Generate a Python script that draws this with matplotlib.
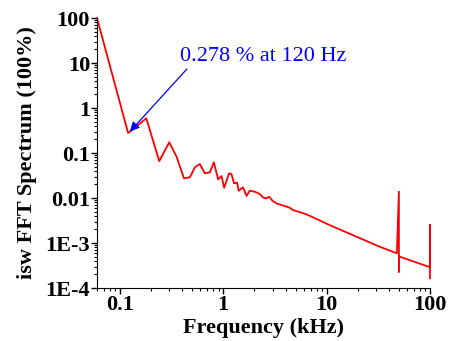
import numpy as np
import matplotlib
matplotlib.use("Agg")
import matplotlib.pyplot as plt
from matplotlib.ticker import FixedLocator, FixedFormatter, LogLocator, NullFormatter

# Spectrum (frequency in kHz, amplitude in %)
freq = [0.06, 0.12, 0.18, 0.24, 0.30, 0.353, 0.416, 0.475, 0.531, 0.593,
        0.663, 0.742, 0.81, 0.892, 0.962, 1.019, 1.138, 1.2, 1.27, 1.36,
        1.41, 1.55, 1.68, 1.80, 2.02, 2.25, 2.43, 2.62, 2.77, 2.99,
        3.27, 4.39, 4.73, 6.37, 10.7, 32.5, 47.8,
        50.0, 50.0, 50.0, 50.5, 100.0, 100.0, 100.0]
amp = [100, 0.278, 0.59, 0.066, 0.173, 0.083, 0.0274, 0.0288, 0.0481, 0.057,
       0.0354, 0.0372, 0.0621, 0.0261, 0.0308, 0.0169, 0.0354, 0.0341, 0.0212, 0.0219,
       0.0145, 0.0173, 0.0111, 0.0145, 0.0138, 0.0123, 0.0102, 0.0098, 0.0107, 0.0087,
       0.0076, 0.0061, 0.0054, 0.00435, 0.0025, 8.3e-4, 5.9e-4,
       0.0138, 2.3e-4, 5.1e-4, 5.0e-4, 2.9e-4, 2.5e-3, 1.64e-4]

ytick_vals = [1e2, 1e1, 1, 0.1, 0.01, 1e-3, 1e-4]
ytick_labels = ['100', '10', '1', '0.1', '0.01', '1E-3', '1E-4']
xtick_vals = [0.1, 1, 10, 100]
xtick_labels = ['0.1', '1', '10', '100']

plt.rcParams['font.family'] = ['Liberation Serif', 'DejaVu Serif']

fig = plt.figure(figsize=(4.56, 3.41), dpi=100)
ax = fig.add_axes([0.2127, 0.1554, 0.7303, 0.7918])

ax.plot(freq, amp, color='red', lw=1.3, clip_on=False)
ax.set_xscale('log')
ax.set_yscale('log')
ax.set_xlim(0.06, 100)
ax.set_ylim(1e-4, 100)

ax.yaxis.set_major_locator(FixedLocator(ytick_vals))
ax.yaxis.set_major_formatter(FixedFormatter(ytick_labels))
ax.xaxis.set_major_locator(FixedLocator(xtick_vals))
ax.xaxis.set_major_formatter(FixedFormatter(xtick_labels))
ax.yaxis.set_minor_locator(LogLocator(base=10, subs=np.arange(2, 10)))
ax.xaxis.set_minor_locator(LogLocator(base=10, subs=np.arange(2, 10)))
ax.yaxis.set_minor_formatter(NullFormatter())
ax.xaxis.set_minor_formatter(NullFormatter())

ax.spines['top'].set_visible(False)
ax.spines['right'].set_visible(False)
ax.tick_params(which='major', direction='out', length=4, width=1, labelsize=16, pad=1)
ax.tick_params(which='minor', direction='out', length=2.5, width=0.8)
for lab in ax.get_xticklabels() + ax.get_yticklabels():
    lab.set_fontweight('bold')

ax.set_xlabel('Frequency (kHz)', fontsize=16, fontweight='bold', labelpad=2)
ax.set_ylabel('isw FFT Spectrum (100%)', fontsize=16, fontweight='bold', labelpad=6)

# annotation of the 120 Hz dip
ax.annotate('', xy=(0.125, 0.30), xytext=(0.445, 7.36),
            arrowprops=dict(arrowstyle='-|>', color='blue', lw=0.9,
                            mutation_scale=14, shrinkA=0, shrinkB=0))
ax.text(0.38, 13.6, '0.278 % at 120 Hz', color='blue', fontsize=16,
        ha='left', va='center')

fig.savefig('out.png', dpi=100)
